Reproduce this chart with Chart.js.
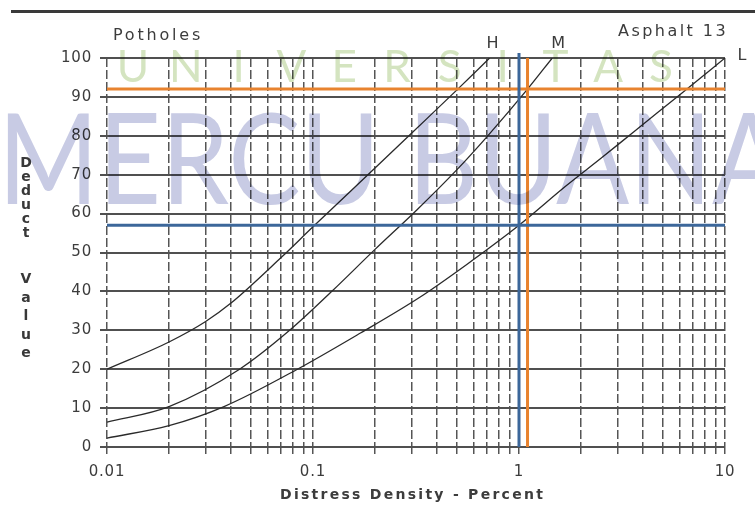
<!DOCTYPE html>
<html>
<head>
<meta charset="utf-8">
<script src="https://cdn.jsdelivr.net/npm/chart.js@4.4.1/dist/chart.umd.min.js"></script>
<style>
  html, body { margin: 0; padding: 0; background: #ffffff; }
  #wrap { width: 755px; height: 506px; }
</style>
</head>
<body>
<div id="wrap"><canvas id="chart" width="755" height="506"></canvas></div>
<script>
// Texts
const titleLeft = 'Potholes';
const titleRight = 'Asphalt 13';
const xAxisTitle = 'Distress Density - Percent';
const yAxisTitle = ['Deduct', 'Value'];
const watermarkTop = 'UNIVERSITAS';
const watermarkMain = 'MERCU BUANA';

// Axis ticks
const densityTicks = [0.01, 0.02, 0.03, 0.04, 0.05, 0.06, 0.07, 0.08, 0.09,
                      0.1, 0.2, 0.3, 0.4, 0.5, 0.6, 0.7, 0.8, 0.9,
                      1, 2, 3, 4, 5, 6, 7, 8, 9, 10];
const densityLabels = [0.01, 0.1, 1, 10];
const deductTicks = [0, 10, 20, 30, 40, 50, 60, 70, 80, 90, 100];

// Severity curves: density (%) vs deduct value
const highDensity = [0.01, 0.02, 0.03, 0.04, 0.07, 0.1, 0.2, 0.3, 0.5, 0.72];
const highDeduct  = [20, 27, 32.2, 37, 48.7, 56.6, 71.7, 80.6, 91.8, 100];
const mediumDensity = [0.01, 0.02, 0.044, 0.077, 0.125, 0.2, 0.32, 0.5, 0.7, 1.1, 1.45];
const mediumDeduct  = [6.4, 10.4, 20, 30, 40.3, 50.8, 61, 71.3, 79.8, 92, 100];
const lowDensity = [0.01, 0.02, 0.037, 0.084, 0.17, 0.33, 0.56, 1, 1.7, 2.5, 3.6, 6.25, 10];
const lowDeduct  = [2.3, 5.5, 10.4, 20, 29.3, 38.5, 47, 57, 67.2, 74.2, 81, 91.2, 100];
const curveNames = ['H', 'M', 'L'];

// Reading lines
const blueDensity = 1.0;
const blueDeduct = 57;
const orangeDensity = 1.1;
const orangeDeduct = 92;

const toPoints = (xs, ys) => xs.map((x, i) => ({ x: x, y: ys[i] }));

const BLUE = '#3c679a';
const ORANGE = '#e8832f';
const INK = '#2a2a2a';

function spacedText(c, text, x, y, width) {
  c.letterSpacing = '0px';
  const natural = c.measureText(text).width;
  const gap = Math.max(0, (width - natural) / text.length);
  c.letterSpacing = gap.toFixed(2) + 'px';
  c.fillText(text, x, y);
  c.letterSpacing = '0px';
}

const decorations = {
  id: 'decorations',
  beforeDraw(chart) {
    chart.ctx.letterSpacing = '0.8px';
  },
  afterDraw(chart) {
    const c = chart.ctx;
    const xs = chart.scales.x;
    const ys = chart.scales.y;
    c.save();
    c.letterSpacing = '0px';

    // rule across the top of the page
    c.fillStyle = '#3a3a3a';
    c.fillRect(11, 10, 744, 3);

    c.fillStyle = '#3c3c3c';
    c.textBaseline = 'alphabetic';
    c.textAlign = 'left';
    c.font = '16px "DejaVu Sans"';
    spacedText(c, titleLeft, 113, 40, 90);
    spacedText(c, titleRight, 618, 36, 110);

    // curve names at the top ends of the curves
    c.textAlign = 'center';
    c.font = '16px "DejaVu Sans"';
    const top = ys.getPixelForValue(100);
    c.fillText(curveNames[0], xs.getPixelForValue(highDensity[highDensity.length - 1]) + 3, top - 10);
    c.fillText(curveNames[1], xs.getPixelForValue(mediumDensity[mediumDensity.length - 1]) + 6, top - 10);
    c.fillText(curveNames[2], xs.getPixelForValue(lowDensity[lowDensity.length - 1]) + 17, top + 2);

    // stacked y axis title
    c.font = 'bold 14px "DejaVu Sans"';
    c.fillStyle = '#383838';
    [...yAxisTitle[0]].forEach((ch, i) => c.fillText(ch, 26, 167 + i * 14));
    [...yAxisTitle[1]].forEach((ch, i) => c.fillText(ch, 26, 283 + i * 18.5));

    // x axis title
    c.textAlign = 'left';
    c.font = 'bold 14px "DejaVu Sans"';
    c.fillStyle = '#3c3c3c';
    spacedText(c, xAxisTitle, 280, 499, 265);

    // faded watermark
    c.globalCompositeOperation = 'multiply';
    c.font = '126px Lato, "Open Sans", sans-serif';
    c.textAlign = 'left';
    const w = c.measureText('MERCU BUAN').width;
    c.save();
    c.translate(-2, 204);
    c.scale(714 / w, 1);
    c.fillStyle = '#c8cbe4';
    c.fillText(watermarkMain, 0, 0);
    c.restore();

    c.font = '44px Lato, "Open Sans", sans-serif';
    c.textAlign = 'center';
    c.fillStyle = '#d4e4c0';
    [...watermarkTop].forEach((ch, i) => c.fillText(ch, 133 + i * 52.8, 82));

    c.restore();
  }
};

const lineStyle = (color, width, order) => ({
  borderColor: color, borderWidth: width, pointRadius: 0, fill: false, order: order
});

new Chart(document.getElementById('chart'), {
  type: 'line',
  data: {
    datasets: [
      Object.assign({ data: [{ x: 0.01, y: blueDeduct }, { x: 10, y: blueDeduct }] }, lineStyle(BLUE, 3, 0)),
      Object.assign({ data: [{ x: blueDensity, y: 0 }, { x: blueDensity, y: 101.3 }], clip: false }, lineStyle(BLUE, 3, 0)),
      Object.assign({ data: [{ x: 0.01, y: orangeDeduct }, { x: 10, y: orangeDeduct }] }, lineStyle(ORANGE, 3, 1)),
      Object.assign({ data: [{ x: orangeDensity, y: 0 }, { x: orangeDensity, y: 100 }] }, lineStyle(ORANGE, 3, 1)),
      Object.assign({ label: curveNames[0], data: toPoints(highDensity, highDeduct), cubicInterpolationMode: 'monotone' }, lineStyle(INK, 1.3, 2)),
      Object.assign({ label: curveNames[1], data: toPoints(mediumDensity, mediumDeduct), cubicInterpolationMode: 'monotone' }, lineStyle(INK, 1.3, 2)),
      Object.assign({ label: curveNames[2], data: toPoints(lowDensity, lowDeduct), cubicInterpolationMode: 'monotone' }, lineStyle(INK, 1.3, 2))
    ]
  },
  options: {
    responsive: false,
    animation: false,
    devicePixelRatio: 1,
    layout: { padding: { left: 0, right: 30, top: 58, bottom: 0 } },
    plugins: { legend: { display: false }, tooltip: { enabled: false } },
    scales: {
      x: {
        type: 'logarithmic',
        min: 0.01,
        max: 10,
        afterBuildTicks: (s) => { s.ticks = densityTicks.map(v => ({ value: v })); },
        afterFit: (s) => { s.height = 59; },
        grid: { color: '#555555', lineWidth: 1.5, tickLength: 7, tickColor: '#555555', tickBorderDash: [9, 3] },
        border: { display: false, dash: [9, 3] },
        ticks: {
          autoSkip: false, maxRotation: 0, padding: 9, color: '#3c3c3c',
          font: { family: 'DejaVu Sans', size: 15 },
          callback: (v) => densityLabels.includes(v) ? String(v) : ''
        }
      },
      y: {
        min: 0,
        max: 100,
        afterBuildTicks: (s) => { s.ticks = deductTicks.map(v => ({ value: v })); },
        afterFit: (s) => { s.width = 107; },
        grid: { color: '#505050', lineWidth: 2, tickLength: 7 },
        border: { display: false },
        ticks: {
          padding: 8, color: '#3c3c3c',
          font: { family: 'DejaVu Sans', size: 15 }
        }
      }
    }
  },
  plugins: [decorations]
});
</script>
</body>
</html>
